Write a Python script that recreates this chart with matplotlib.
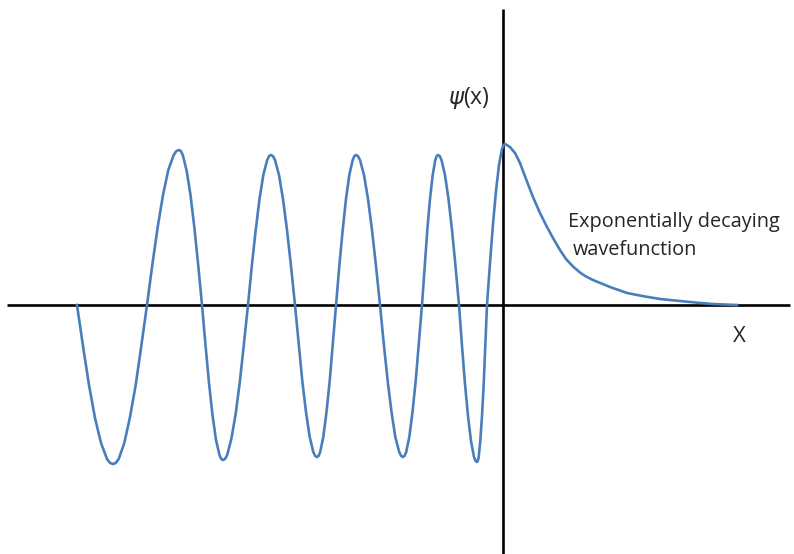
import matplotlib
matplotlib.use("Agg")
import matplotlib.pyplot as plt

# sampled wavefunction: oscillating region (x<0) and decaying tail (x>0)
x_vals = [-4.26, -4.20, -4.14, -4.08, -4.02, -3.96, -3.929, -3.90,
          -3.873, -3.843, -3.787, -3.73, -3.673, -3.617, -3.56,
          -3.507, -3.453, -3.40, -3.347, -3.293, -3.266, -3.24,
          -3.222, -3.202, -3.163, -3.125, -3.087, -3.048, -3.01,
          -2.975, -2.94, -2.905, -2.87, -2.835, -2.817, -2.80,
          -2.78, -2.758, -2.717, -2.675, -2.633, -2.592, -2.55,
          -2.512, -2.473, -2.435, -2.397, -2.358, -2.338, -2.32,
          -2.301, -2.28, -2.24, -2.20, -2.16, -2.12, -2.08,
          -2.043, -2.007, -1.97, -1.933, -1.897, -1.878, -1.86,
          -1.845, -1.828, -1.797, -1.765, -1.733, -1.702, -1.67,
          -1.637, -1.603, -1.57, -1.537, -1.503, -1.486, -1.47,
          -1.451, -1.43, -1.39, -1.35, -1.31, -1.27, -1.23,
          -1.192, -1.153, -1.115, -1.077, -1.038, -1.018, -1.00,
          -0.985, -0.968, -0.937, -0.905, -0.873, -0.842, -0.81,
          -0.783, -0.757, -0.73, -0.703, -0.677, -0.663, -0.65,
          -0.633, -0.615, -0.58, -0.545, -0.51, -0.475, -0.44,
          -0.41, -0.38, -0.35, -0.32, -0.29, -0.274, -0.26,
          -0.252, -0.243, -0.227, -0.21, -0.193, -0.177, -0.16,
          -0.13, -0.10, -0.07, -0.04, -0.01, 0.006, 0.02,
          0.07, 0.12, 0.17, 0.23, 0.30, 0.37, 0.44, 0.50, 0.57, 0.63,
          0.70, 0.77, 0.83, 0.90, 1.07, 1.24, 1.42, 1.57, 1.87, 2.09, 2.34]
psi_vals = [0.00, -0.41, -0.80, -1.13, -1.38, -1.54, -1.58, -1.59,
            -1.58, -1.54, -1.38, -1.12, -0.80, -0.41, 0.00,
            0.40, 0.78, 1.10, 1.35, 1.50, 1.54, 1.55,
            1.54, 1.50, 1.34, 1.10, 0.78, 0.40, 0.00,
            -0.40, -0.78, -1.10, -1.35, -1.50, -1.54, -1.55,
            -1.54, -1.50, -1.34, -1.10, -0.78, -0.40, 0.00,
            0.39, 0.75, 1.06, 1.30, 1.45, 1.49, 1.50,
            1.49, 1.45, 1.30, 1.06, 0.75, 0.39, 0.00,
            -0.39, -0.76, -1.07, -1.32, -1.47, -1.51, -1.52,
            -1.51, -1.47, -1.32, -1.07, -0.76, -0.39, 0.00,
            0.39, 0.75, 1.06, 1.30, 1.45, 1.49, 1.50,
            1.49, 1.45, 1.30, 1.06, 0.75, 0.39, 0.00,
            -0.39, -0.76, -1.07, -1.32, -1.47, -1.51, -1.52,
            -1.51, -1.47, -1.32, -1.07, -0.76, -0.39, 0.00,
            0.39, 0.75, 1.06, 1.30, 1.45, 1.49, 1.50,
            1.49, 1.45, 1.30, 1.06, 0.75, 0.39, 0.00,
            -0.41, -0.79, -1.11, -1.36, -1.52, -1.56, -1.57,
            -1.56, -1.52, -1.36, -1.11, -0.79, -0.41, 0.00,
            0.42, 0.81, 1.14, 1.40, 1.56, 1.60, 1.61,
            1.58, 1.52, 1.42, 1.26, 1.08, 0.92, 0.78, 0.67, 0.55, 0.46,
            0.385, 0.325, 0.285, 0.25, 0.18, 0.12, 0.085, 0.06, 0.03, 0.01, 0.00]

fig = plt.figure(figsize=(7.94, 5.54), dpi=100)
ax = fig.add_axes([0, 0, 1, 1])
ax.set_xlim(-5.03, 2.91)
ax.set_ylim(-2.49, 3.05)
ax.axis("off")

# coordinate axes
ax.plot([-4.96, 2.87], [0, 0], color="black", lw=1.9, solid_capstyle="butt")
ax.plot([0, 0], [-2.49, 2.96], color="black", lw=1.9, solid_capstyle="butt")

ax.plot(x_vals, psi_vals, color="#4a7ebb", lw=1.9, solid_joinstyle="round")

txt = dict(family="Open Sans", color="#262626")
ax.text(-0.34, 2.07, r"$\psi$(x)", fontsize=16.5, ha="center", va="center", **txt)
ax.text(0.65, 0.83, "Exponentially decaying", fontsize=14.3, ha="left",
        va="center", **txt)
ax.text(0.70, 0.55, "wavefunction", fontsize=14.3, ha="left", va="center", **txt)
ax.text(2.36, -0.32, "X", fontsize=16, ha="center", va="center", **txt)

fig.savefig("out.png", dpi=100)
